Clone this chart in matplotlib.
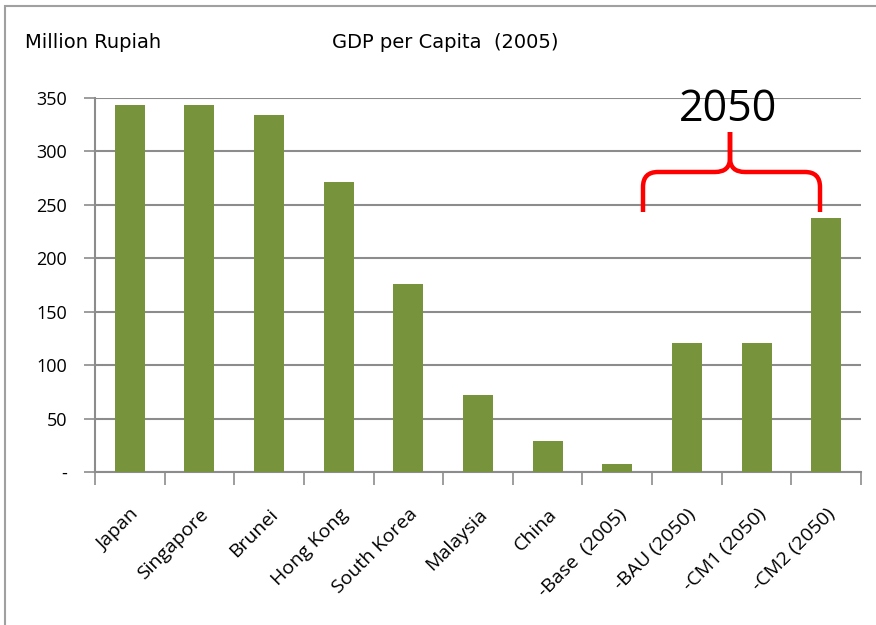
import numpy as np
import matplotlib.pyplot as plt
from matplotlib.path import Path
from matplotlib.patches import PathPatch, Rectangle

# dati
categorie = ["Japan", "Singapore", "Brunei", "Hong Kong", "South Korea",
             "Malaysia", "China", "-Base  (2005)", "-BAU (2050)",
             "-CM1 (2050)", "-CM2 (2050)"]
valori = [343, 343, 334, 271, 176, 72, 29, 7.5, 121, 121, 238]
yticks = [0, 50, 100, 150, 200, 250, 300, 350]
ytick_labels = ["-", "50", "100", "150", "200", "250", "300", "350"]

W, H = 876, 625
fig = plt.figure(figsize=(W / 100, H / 100), dpi=100, facecolor="white")
ax = fig.add_axes([95 / W, 1 - 472 / H, (861 - 95) / W, (472 - 98) / H])

x = np.arange(len(categorie))
ax.bar(x, valori, width=0.43, color="#77933C", zorder=3)

ax.set_xlim(-0.5, len(categorie) - 0.5)
ax.set_ylim(0, 350)

# griglia e assi stile Excel
ax.set_yticks(yticks)
ax.set_yticklabels(ytick_labels, fontsize=13, family="Open Sans")
ax.yaxis.grid(True, color="#8c8c8c", linewidth=1.5, zorder=0)
ax.tick_params(axis="y", length=8, width=1.2, color="#8c8c8c", pad=12)
ax.set_xticks(x)
ax.set_xticklabels(categorie, rotation=45, ha="right", rotation_mode="anchor",
                   fontsize=14, family="Open Sans")
ax.tick_params(axis="x", length=0, pad=24)
# tacche sui confini delle categorie
ax.set_xticks(np.arange(-0.5, len(categorie)), minor=True)
ax.tick_params(axis="x", which="minor", length=9, width=1.2, color="#8c8c8c")

for s in ["top", "right"]:
    ax.spines[s].set_visible(False)
for s in ["left", "bottom"]:
    ax.spines[s].set_color("#8c8c8c")
    ax.spines[s].set_linewidth(1.5)

# titoli
fig.text(25 / W, 1 - 42 / H, "Million Rupiah", fontsize=14,
         family="Liberation Sans Narrow", va="center")
fig.text(445 / W, 1 - 42 / H, "GDP per Capita  (2005)", fontsize=14,
         family="Liberation Sans Narrow", va="center", ha="center")

# parentesi graffa rossa e testo 2050 (coordinate pixel -> figura)
def fp(px, py):
    return (px / W, 1 - py / H)

pts = [(643, 212), (643, 187), (643, 172), (658, 172), (715, 172),
       (730, 172), (730, 158), (730, 132), (730, 158), (730, 172),
       (745, 172), (805, 172), (820, 172), (820, 187), (820, 212)]
codes = [Path.MOVETO, Path.LINETO, Path.CURVE3, Path.CURVE3, Path.LINETO,
         Path.CURVE3, Path.CURVE3, Path.LINETO, Path.LINETO, Path.CURVE3,
         Path.CURVE3, Path.LINETO, Path.CURVE3, Path.CURVE3, Path.LINETO]
brace = Path([fp(*p) for p in pts], codes)
fig.patches.append(PathPatch(brace, transform=fig.transFigure, facecolor="none",
                             edgecolor="red", linewidth=3.2, capstyle="butt"))
fig.text(728 / W, 1 - 110 / H, "2050", fontsize=31, family="Open Sans",
         ha="center", va="center")

# cornice esterna
fig.patches.append(Rectangle((5 / W, -0.1), 1.0, 1 - 6 / H + 0.1,
                             transform=fig.transFigure, fill=False,
                             edgecolor="#a0a0a0", linewidth=1.5))

fig.savefig("out.png", dpi=100, facecolor="white")
